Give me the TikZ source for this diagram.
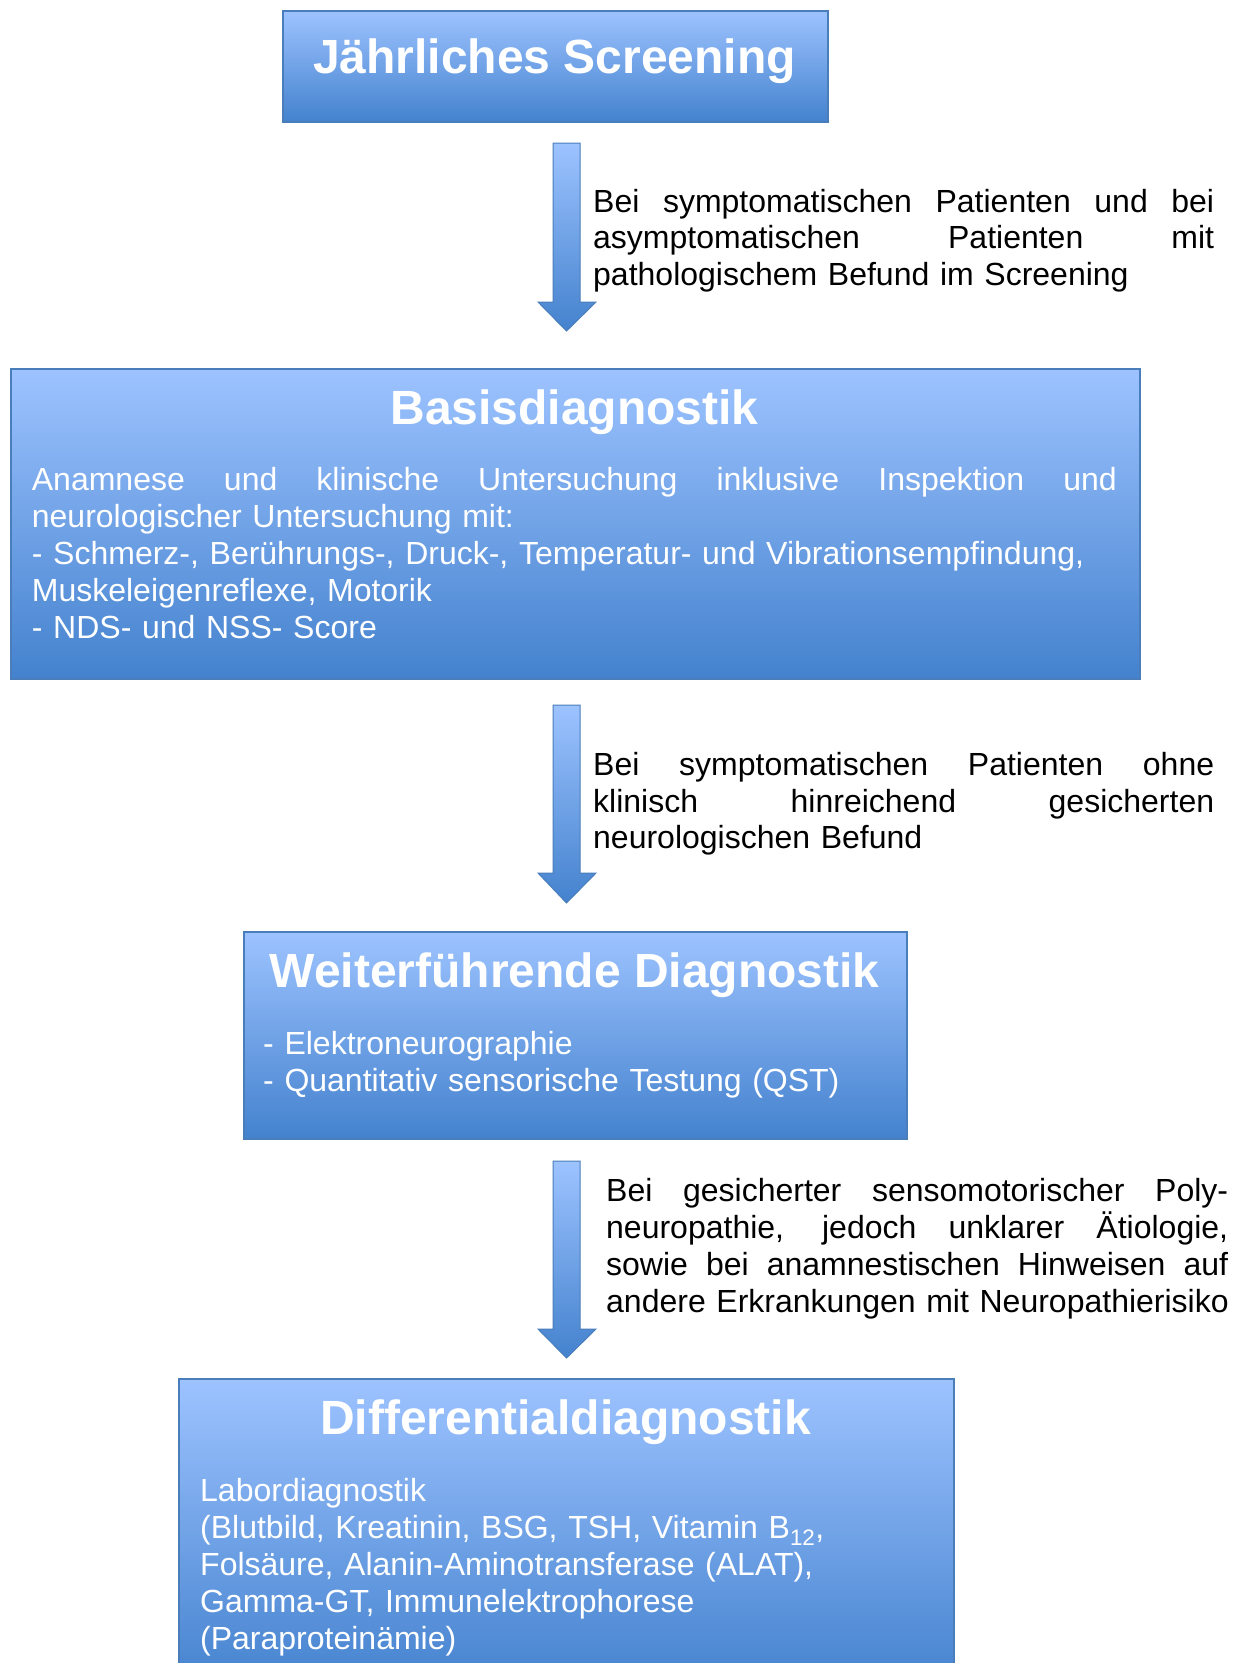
\documentclass[tikz,border=0pt]{standalone}
\usepackage{fontspec}
\setmainfont{Liberation Sans}
\definecolor{boxtop}{HTML}{9DC3FF}
\definecolor{boxbot}{HTML}{4482CE}
\definecolor{boxline}{HTML}{4A7EBB}
\colorlet{boxmid}{boxtop!72!boxbot}
\newcommand{\fl}{\rule{0pt}{28pt}}
\newcommand{\jl}[2][621pt]{\makebox[#1][s]{\spaceskip=.278em plus 1fil\relax #2}}
\tikzset{
  flowbox/.style={draw=boxline, line width=1.5pt, top color=boxtop, middle color=boxmid, bottom color=boxbot, inner sep=0pt},
  flowarrow/.style={draw=boxline, line width=1pt, top color=boxtop, bottom color=boxbot},
  boxtitle/.style={anchor=base, inner sep=0pt, text=white, font=\fontsize{48}{56}\selectfont\bfseries},
  boxbody/.style={anchor=north west, inner sep=0pt, align=left, text=white, font=\fontsize{32}{36.8}\selectfont},
  arrowtext/.style={anchor=north west, inner sep=0pt, align=left, text width=640pt, font=\fontsize{32}{36.8}\selectfont}
}
\begin{document}
\begin{tikzpicture}[x=1pt,y=-1pt]
        \clip (0,0) rectangle (1242,1663);
        % boxes
        \node[flowbox, anchor=north west, minimum width=545pt, minimum height=111pt] (screening) at (282,10) {};
        \node[flowbox, anchor=north west, minimum width=1129pt, minimum height=310pt] (basis) at (10,368) {};
        \node[flowbox, anchor=north west, minimum width=663pt, minimum height=207pt] (weiter) at (243,931) {};
        \node[flowbox, anchor=north west, minimum width=775pt, minimum height=310pt] (diff) at (178,1378) {};
        % titles
        \node[boxtitle] (screeningtitle) at (554.5,73) {Jährliches Screening};
        \node[boxtitle] (basistitle) at (574.5,424) {Basisdiagnostik};
        \node[boxtitle] (weitertitle) at (574.5,987) {Weiterführende Diagnostik};
        \node[boxtitle] (difftitle) at (565.5,1434) {Differentialdiagnostik};
        % box texts
        \node[boxbody, text width=1100pt] (basistext) at (31.7,462.7) {\fl\jl[1085pt]{Anamnese und klinische Untersuchung inklusive Inspektion und}\\
            neurologischer Untersuchung mit:\\
            - Schmerz-, Berührungs-, Druck-, Temperatur- und Vibrationsempfindung,\\
            Muskeleigenreflexe, Motorik\\
            - NDS- und NSS- Score};
        \node[boxbody, text width=630pt] (weitertext) at (263,1026) {\fl- Elektroneurographie\\
            - Quantitativ sensorische Testung (QST)};
        \node[boxbody, text width=740pt] (difftext) at (200,1473.6) {\fl Labordiagnostik\\
            (Blutbild, Kreatinin, BSG, TSH, Vitamin B\textsubscript{12},\\
            Folsäure, Alanin-Aminotransferase (ALAT),\\
            Gamma-GT, Immunelektrophorese\\
            (Paraproteinämie)};
        % arrows
        \path[flowarrow] (553,143)--(580,143)--(580,302)--(596,302)--(566.5,331)--(538,302)--(553,302)--cycle;
        \path[flowarrow] (553,705)--(580,705)--(580,873)--(596,873)--(566.5,903)--(538,873)--(553,873)--cycle;
        \path[flowarrow] (553,1161)--(580,1161)--(580,1329)--(596,1329)--(566.5,1358)--(538,1329)--(553,1329)--cycle;
        % arrow texts
        \node[arrowtext] (text1) at (593,183.8) {\fl\jl{Bei symptomatischen Patienten und bei}\\
            \jl{asymptomatischen Patienten mit}\\
            pathologischem Befund im Screening};
        \node[arrowtext] (text2) at (593,747) {\fl\jl{Bei symptomatischen Patienten ohne}\\
            \jl{klinisch hinreichend gesicherten}\\
            neurologischen Befund};
        \node[arrowtext] (text3) at (606,1173.4) {\fl\jl[622pt]{Bei gesicherter sensomotorischer Poly-}\\
            \jl[622pt]{neuropathie, jedoch unklarer Ätiologie,}\\
            \jl[622pt]{sowie bei anamnestischen Hinweisen auf}\\
            \mbox{andere Erkrankungen mit Neuropathierisiko}};
    \end{tikzpicture}
\end{document}
